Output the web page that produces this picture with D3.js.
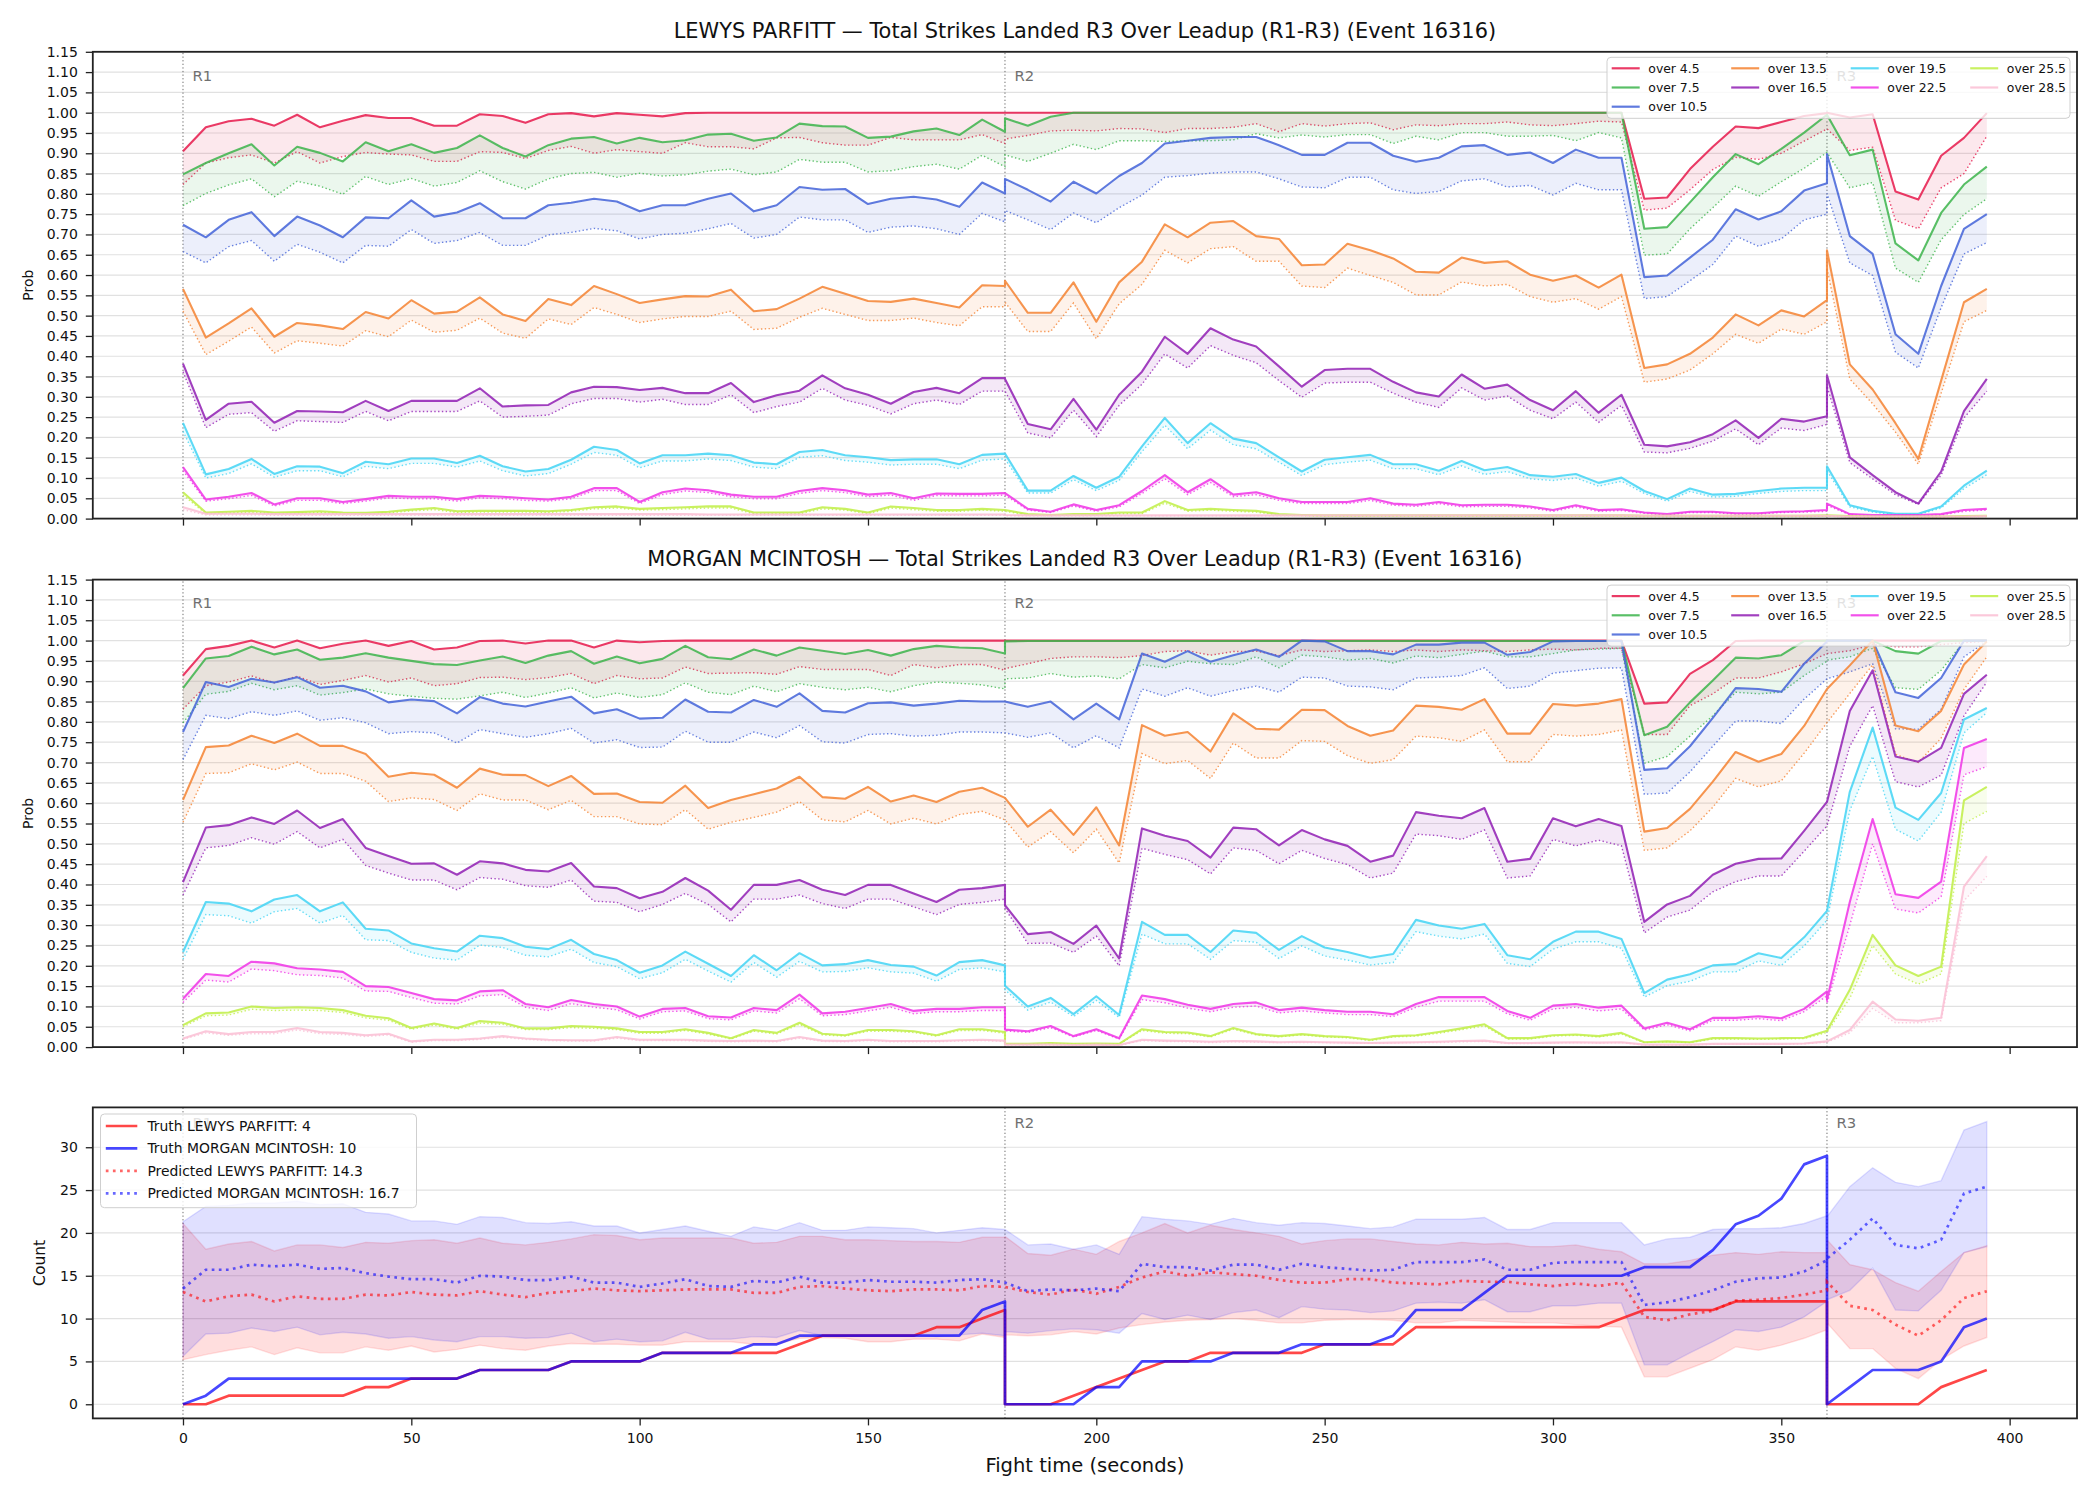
<!DOCTYPE html>
<html lang="en">
<head>
<meta charset="UTF-8">
<title>Total Strikes Landed R3 Over Leadup (Event 16316)</title>
<script src="https://cdn.jsdelivr.net/npm/d3@7"></script>
<style>
  body { margin: 0; background: #fff; }
  svg { display: block; font-family: "DejaVu Sans", sans-serif; }
</style>
</head>
<body>
<svg width="2100" height="1500"></svg>
<script>
// ---------------- data ----------------
// sample times (s); rounds restart at 180 and 360, so those times appear twice
const seconds = [
  0,5,10,15,20,25,30,35,40,45,50,55,60,65,70,75,80,85,90,95,100,105,110,115,120,125,130,135,140,145,150,155,160,165,170,175,180,
  180,185,190,195,200,205,210,215,220,225,230,235,240,245,250,255,260,265,270,275,280,285,290,295,300,305,310,315,320,325,330,335,340,345,350,355,360,
  360,365,370,375,380,385,390,395
];
const roundStarts = [0, 180, 360];
const roundNames = ["R1", "R2", "R3"];
const thresholds = ["over 4.5", "over 7.5", "over 10.5", "over 13.5", "over 16.5", "over 19.5", "over 22.5", "over 25.5", "over 28.5"];
const probTicks = d3.range(24).map(i => i * 0.05);
const countTicks = [0, 5, 10, 15, 20, 25, 30];
const timeTicks = [0, 50, 100, 150, 200, 250, 300, 350, 400];

// LEWYS PARFITT: probability (solid) and lower estimate (dotted)
const lewys45 = [
  0.905,0.964,0.979,0.985,0.968,0.995,0.964,0.980,0.994,0.987,0.987,0.968,0.968,0.996,0.992,0.975,0.996,0.999,0.991,0.999,0.995,0.991,0.999,1,1,1,1,1,1,1,1,1,1,1,1,1,1,
  1,1,1,1,1,1,1,1,1,1,1,1,1,1,1,1,1,1,1,1,1,1,1,1,1,1,1,1,0.788,0.791,0.861,0.916,0.966,0.962,0.977,0.992,0.999,
  1,0.988,0.996,0.806,0.786,0.894,0.938,0.999];
const lewys45Lo = [
  0.823,0.876,0.889,0.896,0.876,0.904,0.876,0.892,0.902,0.898,0.896,0.880,0.880,0.904,0.902,0.887,0.907,0.917,0.900,0.909,0.904,0.900,0.926,0.916,0.916,0.911,0.938,0.939,0.926,0.920,0.920,0.939,0.933,0.933,0.933,0.946,0.924,
  0.935,0.944,0.955,0.957,0.955,0.961,0.960,0.951,0.961,0.961,0.964,0.973,0.953,0.973,0.967,0.973,0.975,0.958,0.970,0.968,0.973,0.973,0.977,0.970,0.968,0.973,0.979,0.977,0.760,0.765,0.810,0.860,0.890,0.885,0.900,0.930,0.960,
  0.960,0.907,0.915,0.735,0.714,0.815,0.850,0.942];
const lewys75 = [
  0.848,0.876,0.900,0.922,0.870,0.916,0.901,0.880,0.927,0.905,0.922,0.901,0.913,0.944,0.913,0.892,0.920,0.936,0.940,0.924,0.938,0.927,0.932,0.946,0.948,0.931,0.939,0.973,0.967,0.966,0.938,0.941,0.954,0.961,0.945,0.983,0.953,
  0.986,0.968,0.990,1,1,1,1,1,1,1,1,1,1,1,1,1,1,1,1,1,1,1,1,1,1,1,1,1,0.714,0.718,0.779,0.841,0.898,0.873,0.911,0.951,0.995,
  0.995,0.895,0.909,0.678,0.636,0.753,0.823,0.867];
const lewys75Lo = [
  0.771,0.801,0.822,0.837,0.793,0.831,0.819,0.799,0.843,0.823,0.838,0.819,0.828,0.857,0.830,0.812,0.837,0.850,0.853,0.841,0.851,0.844,0.847,0.856,0.861,0.847,0.854,0.885,0.878,0.878,0.854,0.857,0.867,0.873,0.861,0.895,0.867,
  0.896,0.880,0.900,0.922,0.909,0.931,0.931,0.929,0.931,0.931,0.933,0.948,0.938,0.945,0.940,0.946,0.946,0.924,0.942,0.933,0.951,0.951,0.942,0.942,0.944,0.931,0.951,0.938,0.649,0.652,0.714,0.766,0.819,0.794,0.830,0.863,0.902,
  0.902,0.815,0.828,0.617,0.582,0.687,0.749,0.788];
const lewys105 = [
  0.724,0.693,0.736,0.755,0.696,0.744,0.722,0.693,0.742,0.740,0.784,0.744,0.754,0.777,0.740,0.740,0.772,0.778,0.788,0.781,0.757,0.772,0.772,0.788,0.801,0.757,0.772,0.817,0.810,0.812,0.775,0.788,0.793,0.786,0.768,0.828,0.801,
  0.837,0.810,0.781,0.830,0.801,0.844,0.876,0.924,0.931,0.938,0.940,0.940,0.920,0.896,0.896,0.926,0.926,0.894,0.879,0.889,0.917,0.920,0.896,0.902,0.876,0.909,0.889,0.889,0.595,0.599,0.643,0.687,0.762,0.737,0.757,0.808,0.826,
  0.898,0.696,0.652,0.454,0.406,0.573,0.714,0.750];
const lewys105Lo = [
  0.658,0.630,0.670,0.685,0.634,0.676,0.656,0.630,0.673,0.671,0.712,0.678,0.685,0.705,0.673,0.673,0.699,0.705,0.715,0.709,0.689,0.700,0.703,0.714,0.727,0.691,0.700,0.743,0.736,0.736,0.705,0.718,0.721,0.714,0.700,0.752,0.731,
  0.759,0.736,0.712,0.753,0.729,0.766,0.797,0.841,0.845,0.851,0.854,0.854,0.837,0.817,0.815,0.841,0.841,0.810,0.801,0.806,0.832,0.837,0.817,0.821,0.797,0.826,0.810,0.810,0.542,0.547,0.586,0.626,0.696,0.671,0.689,0.736,0.750,
  0.801,0.630,0.599,0.410,0.371,0.520,0.652,0.680];
const lewys135 = [
  0.566,0.446,0.481,0.518,0.448,0.482,0.476,0.467,0.509,0.493,0.538,0.505,0.510,0.545,0.503,0.487,0.541,0.526,0.573,0.553,0.531,0.540,0.548,0.547,0.564,0.511,0.516,0.542,0.571,0.554,0.536,0.534,0.542,0.531,0.520,0.575,0.573,
  0.586,0.507,0.507,0.582,0.485,0.582,0.633,0.725,0.693,0.729,0.733,0.696,0.689,0.624,0.626,0.677,0.661,0.641,0.608,0.606,0.643,0.630,0.634,0.601,0.586,0.599,0.569,0.601,0.371,0.380,0.406,0.446,0.503,0.476,0.513,0.498,0.538,
  0.661,0.380,0.318,0.235,0.147,0.340,0.533,0.566];
const lewys135Lo = [
  0.511,0.404,0.437,0.472,0.408,0.438,0.432,0.425,0.463,0.448,0.489,0.459,0.464,0.494,0.457,0.444,0.492,0.478,0.520,0.503,0.483,0.492,0.498,0.498,0.511,0.466,0.469,0.496,0.518,0.503,0.488,0.488,0.494,0.483,0.475,0.522,0.522,
  0.533,0.461,0.461,0.531,0.443,0.529,0.577,0.661,0.630,0.665,0.670,0.634,0.634,0.573,0.569,0.617,0.599,0.582,0.551,0.551,0.583,0.573,0.577,0.547,0.533,0.542,0.516,0.547,0.336,0.344,0.366,0.406,0.454,0.432,0.467,0.454,0.485,
  0.617,0.344,0.283,0.213,0.134,0.309,0.485,0.513];
const lewys165 = [
  0.382,0.243,0.283,0.288,0.236,0.265,0.264,0.262,0.290,0.265,0.290,0.290,0.290,0.321,0.276,0.279,0.280,0.311,0.325,0.324,0.317,0.322,0.309,0.309,0.334,0.287,0.304,0.315,0.353,0.321,0.305,0.283,0.312,0.322,0.309,0.346,0.346,
  0.344,0.233,0.220,0.295,0.219,0.305,0.362,0.448,0.406,0.469,0.441,0.424,0.375,0.325,0.366,0.369,0.369,0.337,0.311,0.301,0.355,0.320,0.330,0.292,0.267,0.314,0.261,0.305,0.182,0.178,0.188,0.208,0.242,0.199,0.246,0.239,0.252,
  0.353,0.151,0.107,0.065,0.037,0.116,0.265,0.344];
const lewys165Lo = [
  0.362,0.224,0.257,0.261,0.215,0.241,0.239,0.237,0.264,0.241,0.264,0.264,0.264,0.290,0.250,0.252,0.255,0.283,0.296,0.296,0.287,0.294,0.281,0.281,0.305,0.261,0.276,0.287,0.321,0.292,0.279,0.258,0.283,0.292,0.281,0.314,0.314,
  0.314,0.211,0.199,0.267,0.202,0.279,0.331,0.406,0.371,0.426,0.402,0.384,0.340,0.299,0.334,0.336,0.336,0.309,0.287,0.274,0.322,0.292,0.302,0.267,0.246,0.287,0.237,0.279,0.164,0.162,0.173,0.191,0.221,0.182,0.223,0.217,0.232,
  0.327,0.138,0.098,0.059,0.035,0.107,0.248,0.314];
const lewys195 = [
  0.236,0.109,0.122,0.147,0.110,0.129,0.128,0.112,0.140,0.134,0.148,0.148,0.137,0.155,0.129,0.116,0.122,0.145,0.177,0.169,0.136,0.156,0.156,0.160,0.156,0.138,0.134,0.164,0.169,0.156,0.151,0.144,0.146,0.146,0.134,0.157,0.160,
  0.160,0.069,0.069,0.105,0.076,0.103,0.178,0.248,0.186,0.235,0.197,0.186,0.151,0.116,0.145,0.151,0.157,0.134,0.134,0.118,0.142,0.119,0.127,0.107,0.103,0.110,0.088,0.101,0.068,0.048,0.074,0.059,0.061,0.068,0.074,0.076,0.076,
  0.129,0.033,0.019,0.012,0.012,0.030,0.081,0.118];
const lewys195Lo = [
  0.215,0.100,0.111,0.135,0.102,0.118,0.118,0.103,0.129,0.123,0.136,0.136,0.127,0.142,0.118,0.105,0.111,0.134,0.163,0.156,0.125,0.142,0.142,0.147,0.143,0.127,0.123,0.151,0.155,0.143,0.139,0.132,0.134,0.134,0.123,0.144,0.147,
  0.147,0.063,0.063,0.096,0.069,0.094,0.165,0.230,0.172,0.218,0.182,0.172,0.139,0.106,0.133,0.139,0.144,0.123,0.123,0.108,0.130,0.109,0.116,0.098,0.094,0.100,0.080,0.092,0.062,0.043,0.067,0.053,0.055,0.062,0.067,0.069,0.069,
  0.118,0.029,0.016,0.010,0.010,0.026,0.074,0.108];
const lewys225 = [
  0.127,0.047,0.054,0.063,0.035,0.050,0.050,0.041,0.048,0.056,0.054,0.054,0.048,0.056,0.054,0.050,0.047,0.054,0.075,0.075,0.041,0.065,0.074,0.070,0.059,0.054,0.054,0.068,0.075,0.070,0.059,0.063,0.050,0.062,0.061,0.061,0.063,
  0.063,0.024,0.017,0.035,0.021,0.033,0.068,0.107,0.065,0.097,0.059,0.065,0.050,0.041,0.041,0.041,0.050,0.037,0.034,0.041,0.033,0.034,0.034,0.030,0.021,0.033,0.021,0.023,0.015,0.011,0.017,0.017,0.013,0.013,0.017,0.018,0.021,
  0.037,0.011,0.009,0.009,0.009,0.011,0.021,0.024];
const lewys225Lo = [
  0.118,0.043,0.049,0.057,0.031,0.045,0.045,0.037,0.043,0.051,0.049,0.049,0.043,0.051,0.049,0.045,0.043,0.049,0.069,0.069,0.037,0.059,0.068,0.064,0.054,0.049,0.049,0.062,0.069,0.064,0.054,0.058,0.045,0.057,0.056,0.056,0.058,
  0.058,0.021,0.015,0.031,0.018,0.029,0.062,0.098,0.059,0.089,0.054,0.059,0.045,0.037,0.037,0.037,0.045,0.033,0.030,0.037,0.029,0.030,0.030,0.026,0.018,0.029,0.018,0.020,0.013,0.009,0.015,0.015,0.011,0.011,0.015,0.016,0.018,
  0.033,0.009,0.007,0.007,0.007,0.009,0.018,0.021];
const lewys255 = [
  0.065,0.015,0.017,0.019,0.015,0.016,0.018,0.015,0.014,0.017,0.022,0.026,0.018,0.019,0.019,0.019,0.018,0.021,0.028,0.030,0.024,0.026,0.028,0.030,0.030,0.015,0.015,0.015,0.028,0.024,0.015,0.030,0.026,0.021,0.021,0.024,0.021,
  0.021,0.011,0.009,0.011,0.011,0.015,0.015,0.043,0.021,0.024,0.021,0.019,0.011,0.009,0.008,0.008,0.008,0.008,0.008,0.008,0.008,0.008,0.008,0.008,0.008,0.008,0.008,0.008,0.007,0.007,0.007,0.007,0.007,0.007,0.007,0.007,0.008,
  0.008,0.006,0.005,0.005,0.005,0.005,0.006,0.007];
const lewys255Lo = [
  0.058,0.012,0.014,0.016,0.012,0.013,0.015,0.012,0.011,0.014,0.019,0.022,0.015,0.016,0.016,0.016,0.015,0.018,0.024,0.026,0.021,0.022,0.024,0.026,0.026,0.012,0.012,0.012,0.024,0.021,0.012,0.026,0.022,0.018,0.018,0.021,0.018,
  0.018,0.009,0.007,0.009,0.009,0.012,0.012,0.038,0.018,0.021,0.018,0.016,0.009,0.007,0.006,0.006,0.006,0.006,0.006,0.006,0.006,0.006,0.006,0.006,0.006,0.006,0.006,0.006,0.005,0.005,0.005,0.005,0.005,0.005,0.005,0.005,0.006,
  0.006,0.004,0.004,0.004,0.004,0.004,0.005,0.005];
const lewys285 = [
  0.028,0.012,0.012,0.012,0.011,0.011,0.011,0.011,0.011,0.011,0.011,0.011,0.011,0.011,0.011,0.011,0.011,0.011,0.011,0.011,0.011,0.011,0.011,0.010,0.010,0.010,0.010,0.010,0.010,0.010,0.010,0.010,0.010,0.010,0.010,0.010,0.010,
  0.009,0.008,0.008,0.008,0.008,0.008,0.008,0.008,0.008,0.008,0.008,0.008,0.008,0.008,0.008,0.008,0.008,0.008,0.008,0.008,0.008,0.008,0.008,0.008,0.008,0.008,0.008,0.008,0.007,0.007,0.007,0.007,0.007,0.007,0.007,0.007,0.007,
  0.007,0.005,0.005,0.005,0.005,0.005,0.005,0.006];
const lewys285Lo = [
  0.022,0.009,0.009,0.009,0.008,0.008,0.008,0.008,0.008,0.008,0.008,0.008,0.008,0.008,0.008,0.008,0.008,0.008,0.008,0.008,0.008,0.008,0.008,0.008,0.008,0.008,0.008,0.008,0.008,0.008,0.008,0.008,0.008,0.008,0.008,0.008,0.008,
  0.007,0.007,0.007,0.007,0.007,0.007,0.007,0.007,0.007,0.007,0.007,0.007,0.007,0.007,0.007,0.007,0.007,0.007,0.007,0.007,0.007,0.007,0.007,0.007,0.007,0.007,0.007,0.007,0.006,0.006,0.006,0.006,0.006,0.006,0.006,0.006,0.006,
  0.006,0.004,0.004,0.004,0.004,0.004,0.004,0.005];

// MORGAN MCINTOSH: probability (solid) and lower estimate (dotted)
const morgan45 = [
  0.914,0.979,0.987,1,0.983,1,0.981,0.992,1,0.987,0.999,0.978,0.983,0.999,1,0.993,1,1,0.983,1,0.996,0.999,1,1,1,1,1,1,1,1,1,1,1,1,1,1,1,
  1,1,1,1,1,1,1,1,1,1,1,1,1,1,1,1,1,1,1,1,1,1,1,1,1,1,1,1,0.845,0.848,0.918,0.952,0.999,1,1,1,1,
  1,1,1,1,1,1,1,1];
const morgan45Lo = [
  0.831,0.889,0.898,0.913,0.896,0.912,0.892,0.902,0.914,0.898,0.908,0.889,0.894,0.909,0.910,0.904,0.909,0.919,0.894,0.914,0.906,0.908,0.935,0.919,0.920,0.921,0.917,0.936,0.929,0.929,0.929,0.914,0.941,0.933,0.941,0.941,0.927,
  0.931,0.943,0.956,0.960,0.960,0.958,0.963,0.973,0.975,0.964,0.973,0.974,0.963,0.977,0.973,0.975,0.977,0.973,0.977,0.973,0.977,0.975,0.973,0.977,0.979,0.977,0.981,0.981,0.769,0.769,0.840,0.869,0.908,0.908,0.923,0.943,0.968,
  0.968,0.975,0.990,0.985,0.985,0.990,0.995,0.998];
const morgan75 = [
  0.883,0.956,0.962,0.985,0.966,0.978,0.953,0.958,0.969,0.958,0.950,0.942,0.940,0.951,0.961,0.945,0.963,0.974,0.943,0.961,0.944,0.955,0.987,0.959,0.954,0.978,0.963,0.983,0.975,0.967,0.977,0.963,0.979,0.987,0.983,0.981,0.968,
  0.998,0.999,0.999,0.999,0.999,0.999,0.999,0.999,0.999,0.999,0.999,0.999,0.999,0.999,0.999,0.999,0.999,0.999,0.999,0.999,0.999,0.999,0.999,0.999,0.999,0.999,0.999,0.999,0.767,0.788,0.848,0.902,0.958,0.956,0.964,0.999,1,
  1,1,1,0.974,0.968,0.999,1,1];
const morgan75Lo = [
  0.798,0.868,0.875,0.895,0.879,0.889,0.866,0.872,0.881,0.869,0.863,0.858,0.856,0.864,0.873,0.860,0.871,0.884,0.859,0.871,0.860,0.867,0.896,0.873,0.867,0.888,0.874,0.894,0.885,0.879,0.885,0.874,0.889,0.898,0.895,0.891,0.881,
  0.906,0.908,0.919,0.910,0.913,0.906,0.941,0.933,0.949,0.943,0.941,0.960,0.933,0.964,0.960,0.952,0.956,0.945,0.962,0.958,0.966,0.974,0.960,0.960,0.968,0.977,0.979,0.981,0.698,0.715,0.765,0.815,0.873,0.869,0.873,0.914,0.949,
  0.952,0.960,0.981,0.884,0.880,0.927,0.998,0.999];
const morgan105 = [
  0.775,0.898,0.886,0.906,0.897,0.910,0.884,0.889,0.875,0.848,0.855,0.851,0.821,0.861,0.845,0.838,0.850,0.862,0.821,0.831,0.808,0.810,0.855,0.825,0.823,0.854,0.837,0.870,0.827,0.823,0.846,0.848,0.840,0.845,0.852,0.850,0.850,
  0.850,0.837,0.850,0.806,0.845,0.806,0.968,0.948,0.974,0.948,0.964,0.978,0.960,1,0.998,0.974,0.974,0.966,0.990,0.990,0.995,0.995,0.965,0.972,0.998,0.999,0.999,0.999,0.682,0.686,0.740,0.810,0.883,0.881,0.874,0.943,0.998,
  1,1,1,0.873,0.859,0.908,1,1];
const morgan105Lo = [
  0.707,0.816,0.808,0.825,0.816,0.827,0.804,0.810,0.798,0.771,0.776,0.773,0.748,0.781,0.771,0.762,0.771,0.784,0.748,0.756,0.737,0.738,0.777,0.750,0.750,0.775,0.761,0.791,0.751,0.748,0.769,0.771,0.765,0.767,0.775,0.775,0.773,
  0.773,0.762,0.773,0.736,0.766,0.736,0.881,0.863,0.884,0.863,0.877,0.888,0.873,0.910,0.908,0.888,0.886,0.879,0.908,0.910,0.914,0.933,0.882,0.888,0.920,0.926,0.932,0.933,0.622,0.625,0.677,0.740,0.802,0.802,0.796,0.856,0.906,
  0.906,0.923,0.943,0.783,0.782,0.831,0.960,0.998];
const morgan135 = [
  0.608,0.738,0.742,0.766,0.748,0.771,0.741,0.741,0.721,0.665,0.675,0.670,0.638,0.685,0.670,0.669,0.642,0.667,0.623,0.624,0.603,0.601,0.643,0.588,0.608,0.622,0.636,0.665,0.615,0.611,0.640,0.604,0.619,0.603,0.628,0.638,0.613,
  0.613,0.542,0.584,0.522,0.590,0.496,0.792,0.766,0.775,0.727,0.821,0.783,0.781,0.830,0.829,0.790,0.766,0.779,0.840,0.837,0.830,0.856,0.771,0.771,0.844,0.840,0.845,0.856,0.530,0.539,0.586,0.653,0.726,0.702,0.721,0.790,0.881,
  0.881,0.939,1,0.791,0.777,0.827,0.941,0.998];
const morgan135Lo = [
  0.553,0.673,0.675,0.697,0.682,0.701,0.673,0.673,0.654,0.604,0.613,0.609,0.582,0.623,0.608,0.608,0.584,0.607,0.567,0.567,0.549,0.547,0.584,0.536,0.553,0.565,0.578,0.604,0.559,0.554,0.582,0.549,0.563,0.549,0.572,0.580,0.559,
  0.559,0.492,0.530,0.478,0.536,0.453,0.722,0.697,0.705,0.661,0.748,0.711,0.711,0.754,0.752,0.717,0.698,0.707,0.765,0.761,0.752,0.780,0.702,0.702,0.769,0.765,0.769,0.780,0.484,0.490,0.532,0.590,0.661,0.640,0.655,0.723,0.798,
  0.798,0.870,0.940,0.720,0.700,0.760,0.880,0.960];
const morgan165 = [
  0.406,0.540,0.546,0.565,0.549,0.582,0.539,0.561,0.490,0.470,0.451,0.452,0.424,0.457,0.452,0.436,0.432,0.453,0.395,0.391,0.366,0.382,0.416,0.385,0.338,0.399,0.399,0.411,0.387,0.374,0.399,0.399,0.378,0.357,0.387,0.391,0.399,
  0.349,0.278,0.283,0.254,0.299,0.218,0.538,0.520,0.507,0.466,0.540,0.536,0.496,0.534,0.511,0.495,0.456,0.471,0.578,0.569,0.563,0.588,0.456,0.463,0.563,0.543,0.561,0.544,0.308,0.351,0.372,0.424,0.451,0.463,0.464,0.532,0.603,
  0.603,0.827,0.927,0.715,0.702,0.736,0.869,0.916];
const morgan165Lo = [
  0.374,0.490,0.496,0.515,0.499,0.530,0.490,0.511,0.447,0.428,0.411,0.411,0.387,0.417,0.413,0.397,0.393,0.411,0.359,0.356,0.333,0.351,0.378,0.351,0.308,0.364,0.364,0.374,0.353,0.341,0.364,0.364,0.345,0.326,0.351,0.356,0.364,
  0.341,0.255,0.256,0.233,0.273,0.200,0.489,0.474,0.461,0.426,0.490,0.484,0.451,0.484,0.464,0.449,0.416,0.428,0.524,0.520,0.511,0.534,0.416,0.421,0.511,0.495,0.509,0.495,0.281,0.320,0.337,0.382,0.407,0.421,0.421,0.482,0.544,
  0.544,0.740,0.840,0.653,0.640,0.669,0.815,0.898];
const morgan195 = [
  0.234,0.357,0.353,0.334,0.363,0.374,0.334,0.356,0.291,0.287,0.255,0.243,0.235,0.274,0.268,0.247,0.241,0.264,0.229,0.214,0.183,0.201,0.235,0.205,0.175,0.226,0.189,0.231,0.201,0.204,0.214,0.202,0.198,0.176,0.209,0.214,0.201,
  0.151,0.100,0.121,0.081,0.125,0.079,0.308,0.276,0.276,0.234,0.287,0.281,0.239,0.273,0.245,0.234,0.220,0.229,0.313,0.299,0.291,0.303,0.226,0.216,0.259,0.284,0.284,0.266,0.133,0.166,0.179,0.201,0.204,0.231,0.219,0.270,0.335,
  0.335,0.628,0.786,0.589,0.559,0.625,0.806,0.834];
const morgan195Lo = [
  0.216,0.326,0.323,0.305,0.333,0.341,0.305,0.324,0.264,0.262,0.233,0.219,0.214,0.251,0.245,0.226,0.222,0.241,0.208,0.198,0.168,0.183,0.216,0.187,0.160,0.208,0.172,0.211,0.185,0.186,0.195,0.185,0.182,0.162,0.191,0.195,0.185,
  0.141,0.091,0.111,0.075,0.115,0.073,0.278,0.254,0.254,0.216,0.262,0.258,0.218,0.249,0.224,0.214,0.202,0.208,0.284,0.273,0.266,0.278,0.206,0.198,0.241,0.259,0.259,0.243,0.123,0.151,0.162,0.185,0.185,0.212,0.201,0.249,0.312,
  0.312,0.582,0.715,0.536,0.507,0.578,0.773,0.823];
const morgan225 = [
  0.119,0.180,0.175,0.210,0.206,0.194,0.191,0.185,0.150,0.148,0.133,0.118,0.115,0.137,0.140,0.106,0.098,0.116,0.106,0.100,0.075,0.094,0.096,0.076,0.073,0.096,0.091,0.129,0.083,0.087,0.096,0.106,0.089,0.094,0.094,0.098,0.098,
  0.043,0.039,0.052,0.027,0.044,0.022,0.127,0.118,0.104,0.094,0.106,0.110,0.091,0.097,0.091,0.087,0.087,0.081,0.106,0.123,0.123,0.123,0.089,0.072,0.102,0.106,0.097,0.102,0.046,0.060,0.044,0.072,0.072,0.076,0.071,0.094,0.137,
  0.116,0.357,0.561,0.376,0.367,0.407,0.736,0.758];
const morgan225Lo = [
  0.110,0.165,0.160,0.192,0.188,0.178,0.176,0.170,0.138,0.137,0.122,0.108,0.106,0.126,0.129,0.098,0.090,0.107,0.098,0.092,0.069,0.087,0.089,0.070,0.067,0.089,0.084,0.119,0.077,0.080,0.089,0.098,0.082,0.087,0.087,0.090,0.090,
  0.040,0.036,0.048,0.025,0.041,0.020,0.117,0.109,0.096,0.087,0.098,0.101,0.084,0.089,0.084,0.080,0.080,0.075,0.098,0.113,0.113,0.113,0.082,0.066,0.094,0.098,0.089,0.094,0.042,0.055,0.040,0.066,0.066,0.070,0.065,0.087,0.126,
  0.107,0.300,0.500,0.340,0.330,0.370,0.670,0.690];
const morgan255 = [
  0.054,0.083,0.085,0.100,0.096,0.098,0.096,0.091,0.077,0.071,0.047,0.058,0.047,0.064,0.060,0.046,0.046,0.052,0.050,0.046,0.037,0.037,0.044,0.035,0.022,0.042,0.035,0.060,0.033,0.029,0.042,0.042,0.039,0.029,0.044,0.044,0.037,
  0.008,0.008,0.010,0.008,0.009,0.008,0.044,0.037,0.036,0.027,0.047,0.032,0.027,0.032,0.027,0.025,0.018,0.027,0.029,0.037,0.046,0.056,0.022,0.022,0.029,0.031,0.027,0.035,0.012,0.014,0.012,0.022,0.022,0.021,0.022,0.023,0.040,
  0.040,0.141,0.276,0.201,0.175,0.198,0.607,0.640];
const morgan255Lo = [
  0.050,0.077,0.079,0.093,0.090,0.091,0.090,0.085,0.072,0.066,0.044,0.054,0.044,0.059,0.056,0.043,0.043,0.048,0.046,0.043,0.034,0.034,0.041,0.032,0.020,0.039,0.032,0.056,0.030,0.027,0.039,0.039,0.036,0.027,0.041,0.041,0.034,
  0.007,0.007,0.009,0.007,0.008,0.007,0.041,0.034,0.033,0.025,0.044,0.030,0.025,0.030,0.025,0.023,0.016,0.025,0.027,0.034,0.043,0.052,0.020,0.020,0.027,0.029,0.025,0.032,0.011,0.013,0.011,0.020,0.020,0.019,0.020,0.021,0.036,
  0.036,0.120,0.250,0.180,0.155,0.180,0.550,0.580];
const morgan285 = [
  0.021,0.039,0.032,0.037,0.037,0.047,0.037,0.035,0.029,0.033,0.014,0.018,0.018,0.021,0.027,0.021,0.018,0.017,0.017,0.025,0.018,0.018,0.018,0.016,0.015,0.016,0.015,0.025,0.016,0.015,0.018,0.015,0.015,0.015,0.017,0.018,0.016,
  0.006,0.006,0.006,0.005,0.006,0.005,0.018,0.016,0.015,0.013,0.015,0.014,0.012,0.013,0.012,0.011,0.010,0.011,0.012,0.013,0.015,0.016,0.010,0.010,0.011,0.012,0.011,0.012,0.006,0.006,0.006,0.008,0.008,0.008,0.008,0.009,0.014,
  0.014,0.042,0.112,0.068,0.065,0.072,0.395,0.470];
const morgan285Lo = [
  0.019,0.035,0.029,0.033,0.033,0.042,0.033,0.031,0.026,0.030,0.012,0.016,0.016,0.019,0.024,0.019,0.016,0.015,0.015,0.022,0.016,0.016,0.016,0.014,0.013,0.014,0.013,0.022,0.014,0.013,0.016,0.013,0.013,0.013,0.015,0.016,0.014,
  0.005,0.005,0.005,0.004,0.005,0.004,0.016,0.014,0.013,0.011,0.013,0.012,0.011,0.011,0.011,0.010,0.009,0.010,0.011,0.011,0.013,0.014,0.009,0.009,0.010,0.011,0.010,0.011,0.005,0.005,0.005,0.007,0.007,0.007,0.007,0.008,0.012,
  0.012,0.035,0.095,0.060,0.060,0.065,0.360,0.420];

// cumulative counts: truth and model prediction with its band
const truthLewys = [
  0,0,1,1,1,1,1,1,2,2,3,3,3,4,4,4,4,5,5,5,5,6,6,6,6,6,6,7,8,8,8,8,8,9,9,10,11,
  0,0,0,1,2,3,4,5,5,6,6,6,6,6,7,7,7,7,9,9,9,9,9,9,9,9,9,10,11,11,11,11,12,12,12,12,12,
  0,0,0,0,0,2,3,4];
const truthMorgan = [
  0,1,3,3,3,3,3,3,3,3,3,3,3,4,4,4,4,5,5,5,5,6,6,6,6,7,7,8,8,8,8,8,8,8,8,11,12,
  0,0,0,0,2,2,5,5,5,5,6,6,6,7,7,7,7,8,11,11,11,13,15,15,15,15,15,15,16,16,16,18,21,22,24,28,29,
  0,2,4,4,4,5,9,10];
const predLewys = [
  13.1,12.0,12.6,12.8,12.0,12.6,12.3,12.3,12.8,12.7,13.1,12.8,12.7,13.2,12.8,12.5,13.0,13.2,13.5,13.3,13.2,13.3,13.4,13.4,13.4,13.0,13.0,13.7,13.8,13.5,13.3,13.2,13.4,13.4,13.3,13.8,13.7,
  13.7,13.1,12.8,13.4,12.9,13.7,14.8,15.5,15.0,15.4,15.2,15.0,14.5,14.2,14.2,14.6,14.6,14.2,14.1,14.0,14.4,14.3,14.3,14.0,13.8,14.1,13.8,14.2,10.2,9.8,10.5,10.9,12.1,12.2,12.4,12.8,13.3,
  14.3,11.5,11.0,9.3,8.0,9.8,12.4,13.2];
const predLewysHi = [
  21.1,18.1,18.7,19.0,17.9,18.6,18.6,18.3,18.9,18.8,19.1,19.2,18.8,19.4,18.8,18.6,18.9,19.3,19.8,19.7,19.2,19.4,19.4,19.4,19.4,18.8,18.9,19.6,19.6,19.2,19.2,19.1,19.0,19.0,18.9,19.5,19.5,
  19.6,17.6,17.4,18.1,17.5,19.0,20.0,21.1,20.0,20.9,20.4,20.0,19.6,18.7,19.1,19.3,19.3,19.0,18.7,18.6,18.9,18.7,18.8,18.4,18.4,18.6,18.1,17.8,16.4,16.4,16.8,17.4,17.7,17.5,17.8,17.7,17.7,
  19.2,16.3,15.7,14.2,13.2,15.5,17.7,18.5];
const predLewysLo = [
  5.2,5.8,6.3,6.7,5.8,6.6,6.0,6.0,6.7,6.3,6.8,6.1,6.4,6.9,6.5,6.3,6.8,7.1,7.0,7.0,6.9,6.9,7.3,7.3,7.3,7.0,7.0,7.7,7.8,7.7,7.3,7.3,7.6,7.6,7.4,8.2,7.8,
  8.1,8.0,8.1,8.5,8.2,8.9,9.3,9.6,9.8,9.9,10.0,9.8,9.5,9.5,9.8,9.9,9.9,9.8,9.5,9.5,9.8,9.7,9.6,9.5,9.5,9.3,9.1,9.0,3.2,3.2,4.2,5.2,6.7,6.3,6.9,7.7,8.7,
  9.5,6.5,6.5,4.2,3.0,5.2,6.8,7.8];
const predMorgan = [
  13.5,15.7,15.7,16.3,16.1,16.3,15.8,15.9,15.3,14.9,14.6,14.6,14.2,15.0,14.9,14.5,14.5,14.9,14.2,14.2,13.7,14.1,14.6,13.8,13.7,14.4,14.2,14.9,14.2,14.2,14.5,14.3,14.3,14.2,14.5,14.6,14.2,
  14.2,13.2,13.4,13.3,13.5,13.2,16.4,16.0,16.0,15.6,16.3,16.3,15.7,16.4,16.0,15.8,15.6,15.7,16.6,16.6,16.6,16.9,15.7,15.7,16.5,16.6,16.6,16.6,11.6,11.9,12.5,13.3,14.3,14.7,14.8,15.5,16.8,
  17.0,19.2,21.7,18.6,18.2,19.2,24.6,25.4];
const predMorganHi = [
  21.3,23.1,23.2,23.5,23.5,23.7,23.3,23.4,22.4,22.2,21.4,21.4,21.0,21.9,21.8,21.2,21.1,21.3,20.8,20.8,20.0,20.4,20.8,20.2,19.6,20.7,20.3,21.2,20.3,20.3,20.7,20.6,20.5,20.0,20.3,20.6,20.4,
  20.4,18.6,18.7,18.1,18.6,17.5,21.9,21.6,21.4,21.0,21.7,21.2,20.9,21.2,21.1,20.8,20.5,20.7,21.6,21.6,21.6,21.8,20.4,20.4,21.2,21.2,21.2,21.2,18.6,19.3,19.5,20.4,20.5,20.5,20.6,21.1,22.0,
  21.9,25.4,27.6,25.9,25.4,26.1,32.0,33.0];
const predMorganLo = [
  5.6,8.2,8.3,8.9,8.5,9.0,8.1,8.4,8.2,7.7,7.9,7.5,7.3,7.9,7.9,7.7,7.8,8.3,7.3,7.6,7.3,7.4,8.4,7.6,7.6,7.9,7.8,8.6,8.0,8.0,8.1,8.1,8.1,7.9,8.1,8.3,8.0,
  8.5,8.3,8.6,8.8,8.7,8.3,10.6,9.9,10.4,9.9,10.7,11.0,10.1,11.4,11.1,11.0,10.7,10.9,11.8,11.9,11.8,12.2,10.8,10.8,11.5,11.5,11.8,11.8,4.6,4.6,6.0,7.3,8.7,8.5,9.0,10.2,12.0,
  12.2,13.3,15.9,11.0,10.9,13.3,17.7,18.4];

const countLegend = ["Truth LEWYS PARFITT: 4", "Truth MORGAN MCINTOSH: 10", "Predicted LEWYS PARFITT: 14.3", "Predicted MORGAN MCINTOSH: 16.7"];

// ---------------- layout / style ----------------
const palette = ["#e6194b", "#3cb44b", "#4363d8", "#f58231", "#911eb4", "#42d4f4", "#f032e6", "#bfef45", "#fabed4"];
const font = "DejaVu Sans, sans-serif";
const left = 92.8, right = 2077;
const svg = d3.select("svg");

const x = d3.scaleLinear().domain([-19.75, 414.75]).range([left, right]);

const lewysHi = [lewys45, lewys75, lewys105, lewys135, lewys165, lewys195, lewys225, lewys255, lewys285];
const lewysLo = [lewys45Lo, lewys75Lo, lewys105Lo, lewys135Lo, lewys165Lo, lewys195Lo, lewys225Lo, lewys255Lo, lewys285Lo];
const morganHi = [morgan45, morgan75, morgan105, morgan135, morgan165, morgan195, morgan225, morgan255, morgan285];
const morganLo = [morgan45Lo, morgan75Lo, morgan105Lo, morgan135Lo, morgan165Lo, morgan195Lo, morgan225Lo, morgan255Lo, morgan285Lo];

lewysHi.concat(lewysLo, morganHi, morganLo, [truthLewys, truthMorgan, predLewys, predLewysHi, predLewysLo, predMorgan, predMorganHi, predMorganLo])
  .forEach((a, i) => { if (a.length !== seconds.length) console.warn("length mismatch", i, a.length); });

function gridLines(g, y, ticks) {
  g.append("g").selectAll("line").data(ticks).join("line")
    .attr("x1", left).attr("x2", right)
    .attr("y1", d => y(d)).attr("y2", d => y(d))
    .attr("stroke", "#e1e1e1").attr("stroke-width", 1.2);
}

function roundMarks(g, y, labelValue) {
  const [y0, y1] = y.range();
  roundStarts.forEach((s, i) => {
    g.append("line")
      .attr("x1", x(s)).attr("x2", x(s)).attr("y1", y0).attr("y2", y1)
      .attr("stroke", "#555").attr("stroke-width", 1).attr("stroke-dasharray", "1.3,2.3").attr("opacity", 0.85);
    g.append("text")
      .attr("x", x(s) + 9.5).attr("y", y(labelValue))
      .attr("dominant-baseline", "central")
      .attr("font-family", font).attr("font-size", 14.8).attr("fill", "#707070")
      .text(roundNames[i]);
  });
}

function axesFrame(g, y, ticks, fmt, showTimeLabels) {
  const [bottom, top] = y.range();
  const ya = g.append("g").attr("transform", `translate(${left},0)`)
    .call(d3.axisLeft(y).tickValues(ticks).tickFormat(fmt).tickSize(7).tickPadding(8));
  const xa = g.append("g").attr("transform", `translate(0,${bottom})`)
    .call(d3.axisBottom(x).tickValues(timeTicks).tickSize(7).tickPadding(8)
      .tickFormat(showTimeLabels ? d3.format("d") : () => ""));
  [ya, xa].forEach(a => {
    a.select(".domain").remove();
    a.attr("font-family", font).attr("font-size", 14);
    a.selectAll("line").attr("stroke", "#222").attr("stroke-width", 1.3);
    a.selectAll("text").attr("fill", "#111");
  });
  g.append("rect")
    .attr("x", left).attr("y", top).attr("width", right - left).attr("height", bottom - top)
    .attr("fill", "none").attr("stroke", "#222").attr("stroke-width", 1.8);
}

function yLabel(g, y, text, cx, size) {
  const [bottom, top] = y.range();
  g.append("text")
    .attr("transform", `translate(${cx},${(top + bottom) / 2}) rotate(-90)`)
    .attr("text-anchor", "middle").attr("dominant-baseline", "central")
    .attr("font-family", font).attr("font-size", size).attr("fill", "#111")
    .text(text);
}

function probPanel(top, bottom, title, his, los) {
  const y = d3.scaleLinear().domain([0, 1.15]).range([bottom, top]);
  const g = svg.append("g");
  gridLines(g, y, probTicks);
  roundMarks(g, y, 1.15 * 0.95);

  const line = d3.line().x((d, k) => x(seconds[k])).y(d => y(d));
  his.forEach((hi, i) => {
    const lo = los[i], c = palette[i];
    const area = d3.area().x((d, k) => x(seconds[k])).y0((d, k) => y(lo[k])).y1(d => y(d));
    g.append("path").attr("d", area(hi)).attr("fill", c).attr("fill-opacity", 0.1);
    g.append("path").attr("d", line(lo)).attr("fill", "none")
      .attr("stroke", c).attr("stroke-width", 1.4).attr("stroke-dasharray", "1.4,2.4").attr("stroke-opacity", 0.8);
    g.append("path").attr("d", line(hi)).attr("fill", "none")
      .attr("stroke", c).attr("stroke-width", 2.1).attr("stroke-opacity", 0.85).attr("stroke-linejoin", "round");
  });

  axesFrame(g, y, probTicks, d3.format(".2f"), false);
  yLabel(g, y, "Prob", 27.7, 14);

  g.append("text")
    .attr("x", (left + right) / 2).attr("y", top - 20.4)
    .attr("text-anchor", "middle").attr("dominant-baseline", "central")
    .attr("font-family", font).attr("font-size", 20.9).attr("fill", "#111")
    .text(title);

  // legend: 4 columns, filled column by column
  const lg = g.append("g");
  lg.append("rect").attr("x", 1607).attr("y", top + 5.5).attr("width", 463).attr("height", 61).attr("rx", 4)
    .attr("fill", "#fff").attr("fill-opacity", 0.8).attr("stroke", "#cfcfcf");
  thresholds.forEach((name, i) => {
    const col = i < 3 ? 0 : Math.floor((i - 3) / 2) + 1;
    const row = i < 3 ? i : (i - 3) % 2;
    const lx = 1611.7 + col * 119.5, ly = top + 16.5 + row * 19.2;
    lg.append("line").attr("x1", lx).attr("x2", lx + 28).attr("y1", ly).attr("y2", ly)
      .attr("stroke", palette[i]).attr("stroke-width", 2.2).attr("stroke-opacity", 0.85);
    lg.append("text").attr("x", lx + 36.6).attr("y", ly).attr("dominant-baseline", "central")
      .attr("font-family", font).attr("font-size", 12.4).attr("fill", "#111").text(name);
  });
}

probPanel(51.8, 518.6, "LEWYS PARFITT \u2014 Total Strikes Landed R3 Over Leadup (R1-R3) (Event 16316)", lewysHi, lewysLo);
probPanel(579.6, 1047.1, "MORGAN MCINTOSH \u2014 Total Strikes Landed R3 Over Leadup (R1-R3) (Event 16316)", morganHi, morganLo);

// ---------------- count panel ----------------
(function countPanel() {
  const y = d3.scaleLinear().domain([-1.65, 34.65]).range([1418.4, 1107.4]);
  const g = svg.append("g");
  gridLines(g, y, countTicks);
  roundMarks(g, y, 34.65 * 0.95);

  const red = "#ff0000", blue = "#0000ff";
  const line = d3.line().x((d, k) => x(seconds[k])).y(d => y(d));
  const band = (lo) => d3.area().x((d, k) => x(seconds[k])).y0((d, k) => y(lo[k])).y1(d => y(d));

  g.append("path").attr("d", band(predLewysLo)(predLewysHi))
    .attr("fill", red).attr("fill-opacity", 0.13).attr("stroke", red).attr("stroke-opacity", 0.12).attr("stroke-width", 1.4);
  g.append("path").attr("d", band(predMorganLo)(predMorganHi))
    .attr("fill", blue).attr("fill-opacity", 0.12).attr("stroke", blue).attr("stroke-opacity", 0.12).attr("stroke-width", 1.4);

  g.append("path").attr("d", line(truthLewys)).attr("fill", "none")
    .attr("stroke", red).attr("stroke-opacity", 0.72).attr("stroke-width", 2.7).attr("stroke-linejoin", "round");
  g.append("path").attr("d", line(truthMorgan)).attr("fill", "none")
    .attr("stroke", blue).attr("stroke-opacity", 0.72).attr("stroke-width", 2.7).attr("stroke-linejoin", "round");
  g.append("path").attr("d", line(predLewys)).attr("fill", "none")
    .attr("stroke", red).attr("stroke-opacity", 0.6).attr("stroke-width", 2.7).attr("stroke-dasharray", "2.7,4.4");
  g.append("path").attr("d", line(predMorgan)).attr("fill", "none")
    .attr("stroke", blue).attr("stroke-opacity", 0.6).attr("stroke-width", 2.7).attr("stroke-dasharray", "2.7,4.4");

  axesFrame(g, y, countTicks, d3.format("d"), true);
  yLabel(g, y, "Count", 40, 15.5);

  g.append("text")
    .attr("x", (left + right) / 2).attr("y", 1465)
    .attr("text-anchor", "middle").attr("dominant-baseline", "central")
    .attr("font-family", font).attr("font-size", 19.5).attr("fill", "#111")
    .text("Fight time (seconds)");

  const lg = g.append("g");
  lg.append("rect").attr("x", 100.5).attr("y", 1114).attr("width", 316).attr("height", 93.7).attr("rx", 4)
    .attr("fill", "#fff").attr("fill-opacity", 0.8).attr("stroke", "#cfcfcf");
  const legendStyle = [
    { c: red, dash: null, op: 0.72 },
    { c: blue, dash: null, op: 0.72 },
    { c: red, dash: "2.7,4.4", op: 0.6 },
    { c: blue, dash: "2.7,4.4", op: 0.6 }
  ];
  countLegend.forEach((name, i) => {
    const ly = 1126 + i * 22.45;
    const s = legendStyle[i];
    lg.append("line").attr("x1", 105.8).attr("x2", 137.3).attr("y1", ly).attr("y2", ly)
      .attr("stroke", s.c).attr("stroke-opacity", s.op).attr("stroke-width", 2.7)
      .attr("stroke-dasharray", s.dash);
    lg.append("text").attr("x", 147.4).attr("y", ly).attr("dominant-baseline", "central")
      .attr("font-family", font).attr("font-size", 13.9).attr("fill", "#111").text(name);
  });
})();
</script>
</body>
</html>
